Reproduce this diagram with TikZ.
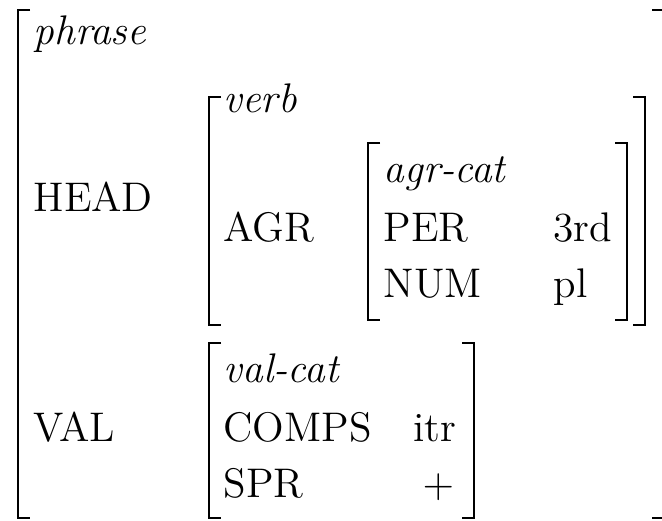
\documentclass[tikz,border=0pt]{standalone}
\usepackage{tikz}
\usetikzlibrary{positioning}

\tikzset{
  feat/.style={anchor=base west, inner sep=0pt, font=\fontsize{12}{14}\selectfont},
  avm/.style={line width=0.6pt},
}

\begin{document}
\begin{tikzpicture}[x=0.29pt, y=-0.29pt]
        \useasboundingbox (0,0) rectangle (662,521);

        % outer matrix
        \node [feat] (phrase) at (33,45) {\textit{phrase}};
        \node [feat] (head) at (33,212) {HEAD};
        \node [feat] (val) at (33,442) {VAL};

        % head value
        \node [feat] (verb) at (223,113) {\textit{verb}};
        \node [feat] (agr) at (223,242) {AGR};
        \node [feat] (agrcat) at (383,183) {\textit{agr-cat}};
        \node [feat] (per) at (383,242) {PER};
        \node [feat] (third) at (553,242) {3rd};
        \node [feat] (num) at (383,298) {NUM};
        \node [feat] (plural) at (553,298) {pl};

        % val value
        \node [feat] (valcat) at (223,383) {\textit{val-cat}};
        \node [feat] (comps) at (223,442) {COMPS};
        \node [feat] (itr) at (413,442) {itr};
        \node [feat] (spr) at (223,498) {SPR};
        \node [feat] (plus) at (422,498) {$+$};

        % brackets
        \draw [avm] (30,10) -- (18,10) -- (18,518) -- (30,518);
        \draw [avm] (652,10) -- (664,10) -- (664,518) -- (652,518);
        \draw [avm] (221,97) -- (209,97) -- (209,325) -- (221,325);
        \draw [avm] (633,97) -- (645,97) -- (645,325) -- (633,325);
        \draw [avm] (380,143) -- (368,143) -- (368,320) -- (380,320);
        \draw [avm] (615,143) -- (627,143) -- (627,320) -- (615,320);
        \draw [avm] (221,343) -- (209,343) -- (209,518) -- (221,518);
        \draw [avm] (462,343) -- (474,343) -- (474,518) -- (462,518);
    \end{tikzpicture}
\end{document}
